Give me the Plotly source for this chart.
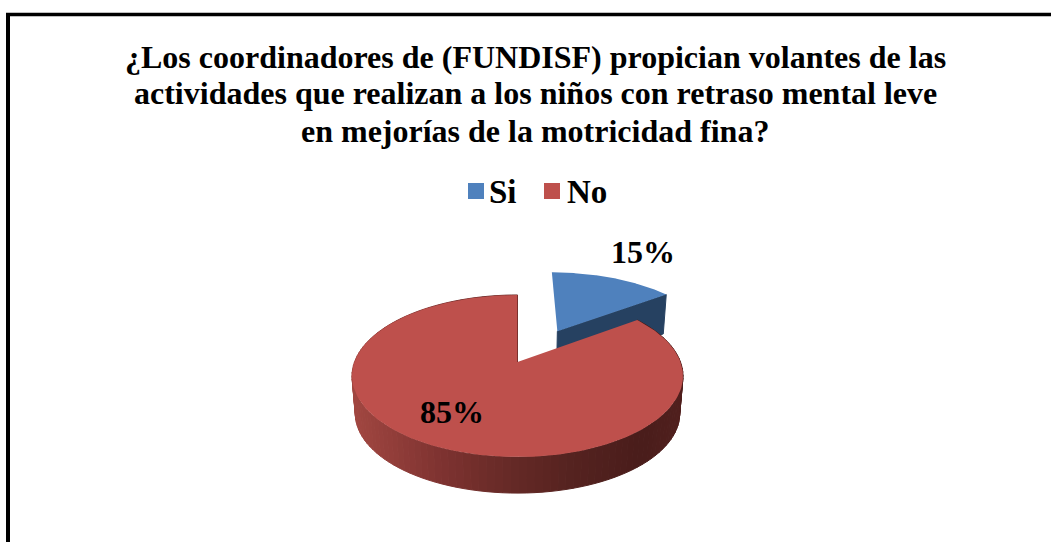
import numpy as np
import plotly.graph_objects as go

categorias = ["Si", "No"]
valores = [15, 85]
titulo = [
    "¿Los coordinadores de (FUNDISF) propician volantes de las",
    "actividades que realizan a los niños con retraso mental leve",
    "en mejorías de la motricidad fina?",
]

AZUL = "#4F81BD"
AZUL_LADO = "#264161"
ROJO = "#BE504C"
ROJO_BORDE = "#7A302D"
# color of the red wall, left to right
X_DEGRADADO = [351, 440, 507, 573, 640, 682]
R_DEGRADADO = [163, 127, 103, 85, 74, 81]
G_DEGRADADO = [72, 51, 42, 35, 29, 32]
B_DEGRADADO = [66, 49, 39, 32, 27, 30]
FUENTE = "Liberation Serif"

# pie projection, in pixels since the axes span the whole page
CX, CY = 517.5, 362
RX, RY = 163, 78.6
K = 0.1726
PROFUNDIDAD = 38
ESCALA_BASE = 0.98
EXPLOSION = 0.495
DESVIO_EXPLOSION = 5

# the title lines are not evenly spaced in the original
Y_TITULO = [57, 93, 131]
X_SWATCH = [476, 552]
X_TEXTO_LEYENDA = [487, 565]


def proyectar(u, v, base=False):
    d = 1 + K * v
    x = CX + RX * u / d
    y = CY - RY * v / d
    if base:
        x = CX + (x - CX) * ESCALA_BASE
        y = CY + PROFUNDIDAD + (y - CY) * ESCALA_BASE
    return x, y


def sector(a0, a1, ex=0.0, ey=0.0, base=False):
    ang = np.radians(np.linspace(a0, a1, 200))
    u = np.concatenate([[ex], ex + np.sin(ang), [ex]])
    v = np.concatenate([[ey], ey + np.cos(ang), [ey]])
    return proyectar(u, v, base)


def poligono(x, y, color, ancho=0):
    return go.Scatter(
        x=x, y=y, mode="lines", fill="toself", fillcolor=color,
        line=dict(color=color, width=ancho), hoverinfo="skip", showlegend=False,
    )


angulos = np.cumsum([0] + valores) / sum(valores) * 360
fig = go.Figure()

# Si slice, pulled out along its middle angle
a0, a1 = angulos[0], angulos[1]
medio = np.radians((a0 + a1) / 2 + DESVIO_EXPLOSION)
ex, ey = EXPLOSION * np.sin(medio), EXPLOSION * np.cos(medio)
ang_fin = np.radians(a1)
ua, va = np.array([ex, ex + np.sin(ang_fin)]), np.array([ey, ey + np.cos(ang_fin)])
xt, yt = proyectar(ua, va)
xb, yb = proyectar(ua, va, base=True)
fig.add_trace(poligono([xt[0], xt[1], xb[1], xb[0], xt[0]],
                       [yt[0], yt[1], yb[1], yb[0], yt[0]], AZUL_LADO, 1))
xs, ys = sector(a0, a1, ex, ey)
fig.add_trace(poligono(xs, ys, AZUL))

# No slice: wall as thin strips, then the top face
a0, a1 = angulos[1], angulos[2]
bordes = np.radians(np.linspace(a0, a1, 130))
for a, b in zip(bordes[:-1], bordes[1:]):
    ua = np.array([np.sin(a), np.sin(b)])
    va = np.array([np.cos(a), np.cos(b)])
    xt, yt = proyectar(ua, va)
    xb, yb = proyectar(ua, va, base=True)
    xm = (xt.mean() + xb.mean()) / 2
    color = "rgb(%d,%d,%d)" % (
        np.interp(xm, X_DEGRADADO, R_DEGRADADO),
        np.interp(xm, X_DEGRADADO, G_DEGRADADO),
        np.interp(xm, X_DEGRADADO, B_DEGRADADO),
    )
    fig.add_trace(poligono([xt[0], xt[1], xb[1], xb[0], xt[0]],
                           [yt[0], yt[1], yb[1], yb[0], yt[0]], color, 1))
xs, ys = sector(a0, a1)
fig.add_trace(poligono(xs, ys, ROJO))
xe, ye = proyectar(np.array([0.0, 0.0]), np.array([0.0, 1.0]))
fig.add_trace(go.Scatter(x=xe, y=ye, mode="lines", line=dict(color=ROJO_BORDE, width=1),
                         hoverinfo="skip", showlegend=False))

# legend keys, drawn by hand to get the tight gap between swatch and text
for nombre, color, x_ley in zip(categorias, [AZUL, ROJO], X_SWATCH):
    fig.add_trace(go.Scatter(
        x=[x_ley], y=[191], mode="markers", name=nombre,
        showlegend=False, hoverinfo="skip",
        marker=dict(symbol="square", size=16, color=color),
    ))

anotaciones = [
    dict(x=535, y=y, text=linea, showarrow=False,
         font=dict(family=FUENTE, size=32, weight=700, color="black"))
    for linea, y in zip(titulo, Y_TITULO)
]
anotaciones += [
    dict(x=x, y=192, text=nombre, showarrow=False, xanchor="left",
         font=dict(family=FUENTE, size=33, weight=700, color="black"))
    for nombre, x in zip(categorias, X_TEXTO_LEYENDA)
]
anotaciones += [
    dict(x=643, y=252, text=f"{valores[0]}%", showarrow=False,
         font=dict(family=FUENTE, size=32, weight=700, color="black")),
    dict(x=452, y=412, text=f"{valores[1]}%", showarrow=False,
         font=dict(family=FUENTE, size=32, weight=700, color="black")),
]

fig.update_layout(
    width=1051, height=542,
    margin=dict(t=0, b=0, l=0, r=0),
    paper_bgcolor="white", plot_bgcolor="white",
    font=dict(family=FUENTE, color="black"),
    xaxis=dict(range=[0, 1051], visible=False),
    yaxis=dict(range=[542, 0], visible=False),
    shapes=[
        dict(type="line", x0=8, x1=8, y0=13, y1=542, line=dict(color="black", width=4)),
        dict(type="line", x0=6, x1=1051, y0=14.5, y1=14.5, line=dict(color="black", width=3.5)),
    ],
    annotations=anotaciones,
)

fig.write_html("out.html", config={"displayModeBar": False},
               post_script="document.body.style.margin='0'")
